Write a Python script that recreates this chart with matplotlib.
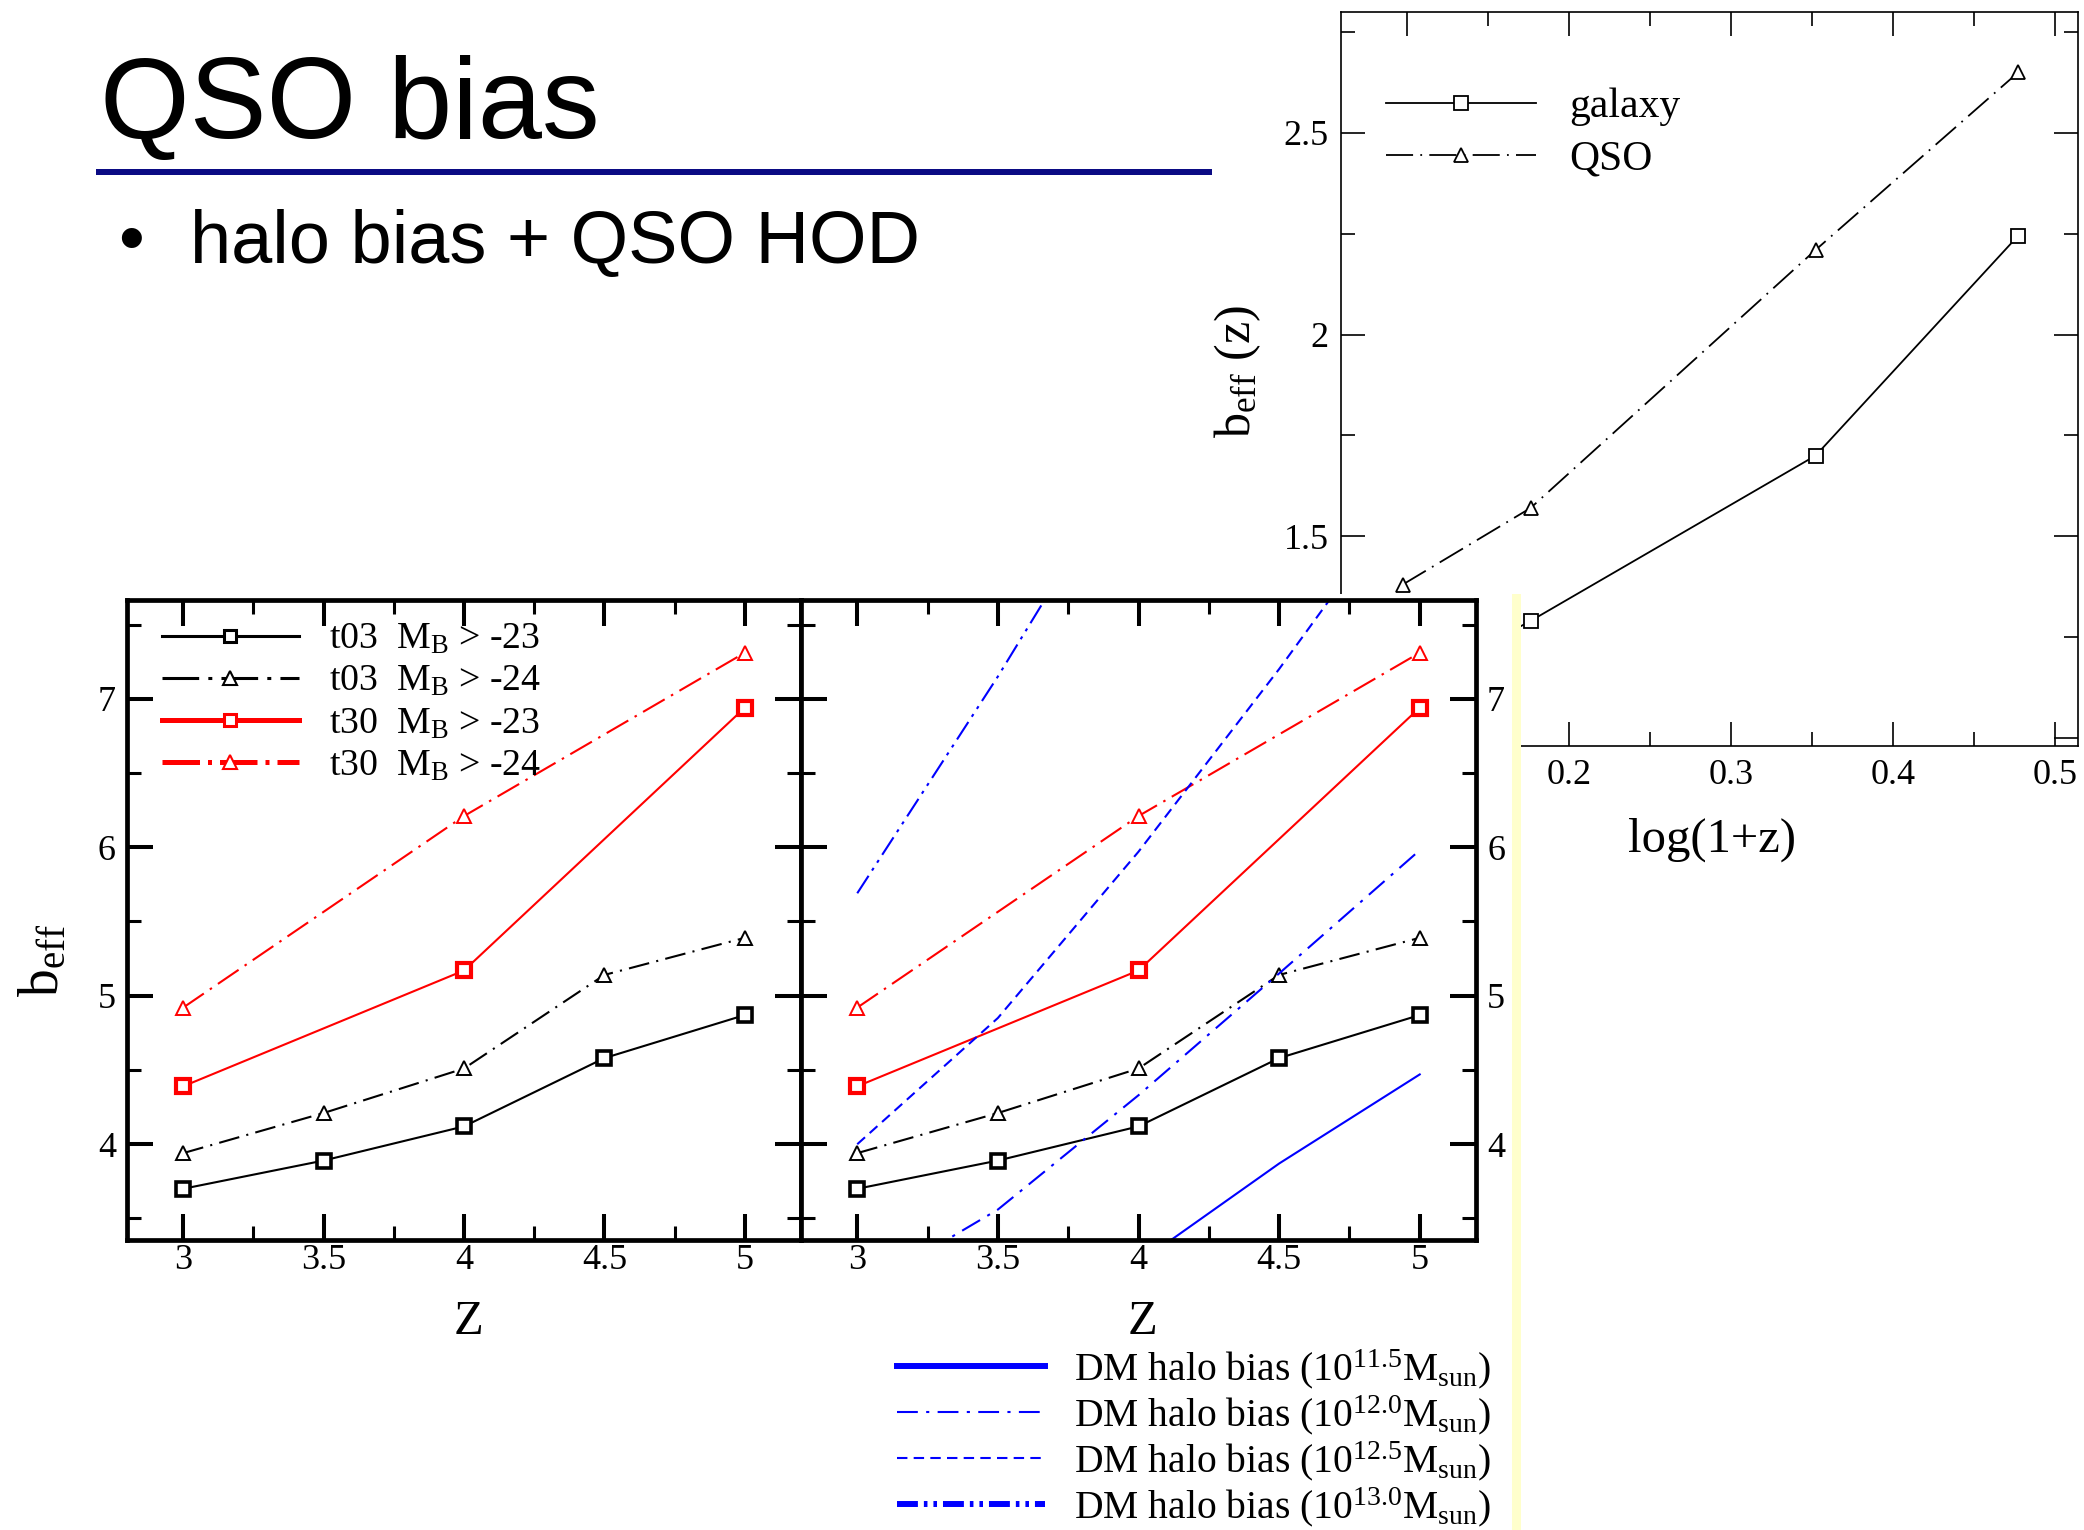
import matplotlib.pyplot as plt
from matplotlib.lines import Line2D
from matplotlib.patches import Rectangle
from matplotlib.ticker import MultipleLocator, FormatStrFormatter

plt.rcParams['font.family'] = ['Liberation Serif', 'DejaVu Serif']
plt.rcParams['mathtext.fontset'] = 'custom'
plt.rcParams['mathtext.rm'] = 'Liberation Serif'
plt.rcParams['mathtext.it'] = 'Liberation Serif:italic'

# b_eff(z) against log(1+z): galaxies and QSOs
logz_gal = [0.097, 0.176, 0.352, 0.477]
b_gal = [1.12, 1.29, 1.70, 2.245]
logz_qso = [0.097, 0.176, 0.352, 0.477]
b_qso = [1.38, 1.57, 2.21, 2.65]

# QSO effective bias against redshift (lifetime t03/t30, magnitude cut)
z_t03 = [3.0, 3.5, 4.0, 4.5, 5.0]
b_t03_23 = [3.70, 3.89, 4.12, 4.58, 4.87]
b_t03_24 = [3.94, 4.21, 4.51, 5.14, 5.39]
z_t30 = [3.0, 4.0, 5.0]
b_t30_23 = [4.39, 5.17, 6.94]
b_t30_24 = [4.92, 6.21, 7.31]

# dark matter halo bias for four halo masses
z_halo = [3.0, 3.5, 4.0, 4.5, 5.0]
b_halo_115 = [2.20, 2.65, 3.20, 3.87, 4.47]
b_halo_120 = [3.00, 3.56, 4.33, 5.15, 5.98]
b_halo_125 = [4.00, 4.85, 5.97, 7.20, 8.50]
b_halo_130 = [5.69, 7.15, 8.70, 10.3, 12.0]

qso_labels = [r't03  $\mathrm{M_B}$ > -23', r't03  $\mathrm{M_B}$ > -24',
              r't30  $\mathrm{M_B}$ > -23', r't30  $\mathrm{M_B}$ > -24']
halo_labels = [r'DM halo bias (10$^{\mathrm{11.5}}$M$_{\mathrm{sun}}$)',
               r'DM halo bias (10$^{\mathrm{12.0}}$M$_{\mathrm{sun}}$)',
               r'DM halo bias (10$^{\mathrm{12.5}}$M$_{\mathrm{sun}}$)',
               r'DM halo bias (10$^{\mathrm{13.0}}$M$_{\mathrm{sun}}$)']

W, H = 2084, 1530
fig = plt.figure(figsize=(W / 100, H / 100), dpi=100)


def box(x0, y0, x1, y1):
    # pixel box (top-left origin) -> figure fraction rect
    return [x0 / W, 1 - y1 / H, (x1 - x0) / W, (y1 - y0) / H]


# slide heading
fig.text(100 / W, 1 - 138 / H, 'QSO bias', fontsize=83, family='Liberation Sans',
         va='baseline')
fig.add_artist(Rectangle((96 / W, 1 - 175 / H), 1116 / W, 6 / H, transform=fig.transFigure,
                         facecolor='#0b0b84', edgecolor='none'))
fig.text(118 / W, 1 - 263 / H, '\u2022', fontsize=53, family='Liberation Sans', va='baseline')
fig.text(190 / W, 1 - 263 / H, 'halo bias + QSO HOD', fontsize=53.3,
         family='Liberation Sans', va='baseline')

# ---- galaxy / QSO panel (top right) ----
dashdot = (0, (15, 4, 1, 4))
ax_q = fig.add_axes(box(1341, 12, 2078, 746))
ax_q.plot(logz_gal, b_gal, color='k', lw=1.3, marker='s', ms=10, mfc='white', mew=1.3,
          label='galaxy')
ax_q.plot(logz_qso, b_qso, color='k', lw=1.3, ls=dashdot, marker='^', ms=10,
          mfc='white', mew=1.3, label='QSO')
ax_q.set_xlim(0.059, 0.514)
ax_q.set_ylim(0.98, 2.8)
ax_q.xaxis.set_major_locator(MultipleLocator(0.1))
ax_q.xaxis.set_minor_locator(MultipleLocator(0.05))
ax_q.yaxis.set_major_locator(MultipleLocator(0.5))
ax_q.yaxis.set_minor_locator(MultipleLocator(0.25))
ax_q.xaxis.set_major_formatter(FormatStrFormatter('%g'))
ax_q.yaxis.set_major_formatter(FormatStrFormatter('%g'))
ax_q.tick_params(which='both', direction='in', top=True, right=True, width=1.2,
                 labelsize=26, pad=9)
ax_q.tick_params(which='major', length=17)
ax_q.tick_params(which='minor', length=10)
for s in ax_q.spines.values():
    s.set_linewidth(1.2)
ax_q.set_xlabel('log(1+z)', fontsize=35)
ax_q.xaxis.set_label_coords(0.504, -0.098)
ax_q.set_ylabel(r'b$_{\mathrm{eff}}$ (z)', fontsize=36)
ax_q.yaxis.set_label_coords(-0.106, 0.51)
ax_q.legend(loc='upper left', bbox_to_anchor=(0.061, 0.897), frameon=False, fontsize=30,
            handlelength=3.6, handletextpad=0.8, borderpad=0, borderaxespad=0,
            labelspacing=0.33)

# white backdrop of the lower figure, with its pale edge strip
fig.add_artist(Rectangle((0, 0), 1512 / W, 1 - 594 / H, transform=fig.transFigure,
                         facecolor='white', edgecolor='none', zorder=0.5))
fig.add_artist(Rectangle((1512 / W, 0), 9 / W, 1 - 594 / H, transform=fig.transFigure,
                         facecolor='#ffffcc', edgecolor='none', zorder=0.5))

# ---- b_eff vs Z panels (bottom) ----
ax_l = fig.add_axes(box(127, 600, 801, 1240))
ax_r = fig.add_axes(box(801, 600, 1476, 1240))
red = '#ff0000'
blue = '#0000ff'
dd_k = (0, (10, 3.5, 1, 3.5))

for ax in (ax_l, ax_r):
    ax.set_zorder(1)
    ax.plot(z_t03, b_t03_23, color='k', lw=1.5, marker='s', ms=9.5, mfc='white', mew=2.6)
    ax.plot(z_t03, b_t03_24, color='k', lw=1.5, ls=dd_k, marker='^', ms=10, mfc='white',
            mew=1.4)
    ax.plot(z_t30, b_t30_23, color=red, lw=1.5, marker='s', ms=9.5, mfc='white', mew=3.0)
    ax.plot(z_t30, b_t30_24, color=red, lw=1.5, ls=(0, (12, 3.5, 1.2, 3.5)), marker='^',
            ms=10, mfc='white', mew=1.4)
    ax.set_xlim(2.8, 5.2)
    ax.set_ylim(3.355, 7.665)
    ax.xaxis.set_major_locator(MultipleLocator(0.5))
    ax.xaxis.set_minor_locator(MultipleLocator(0.25))
    ax.yaxis.set_major_locator(MultipleLocator(1))
    ax.yaxis.set_minor_locator(MultipleLocator(0.5))
    ax.xaxis.set_major_formatter(FormatStrFormatter('%g'))
    ax.tick_params(which='both', direction='in', top=True, right=True, labelsize=26)
    ax.tick_params(which='major', length=19, width=2.9)
    ax.tick_params(which='minor', length=10, width=2.2)
    ax.tick_params(axis='x', pad=3)
    ax.tick_params(axis='y', pad=8)
    for s in ax.spines.values():
        s.set_linewidth(3.4)
    ax.set_xlabel('Z', fontsize=35)
    ax.xaxis.set_label_coords(0.506, -0.094)

ax_r.plot(z_halo, b_halo_115, color=blue, lw=1.5)
ax_r.plot(z_halo, b_halo_120, color=blue, lw=1.5, ls=(0, (10, 4, 1.5, 4)))
ax_r.plot(z_halo, b_halo_125, color=blue, lw=1.5, ls=(0, (5, 3)))
ax_r.plot(z_halo, b_halo_130, color=blue, lw=1.5, ls=(0, (10, 3, 1.5, 3, 1.5, 3)))
ax_r.tick_params(labelleft=False, labelright=True)

ax_l.set_ylabel(r'b$_{\mathrm{eff}}$', fontsize=40)
ax_l.yaxis.set_label_coords(-0.085, 0.437)

qso_handles = [
    Line2D([], [], color='k', lw=2.2, marker='s', ms=9, mfc='white', mew=2.2),
    Line2D([], [], color='k', lw=2.2, ls=(0, (12, 3, 1.3, 3)), marker='^', ms=10,
           mfc='white', mew=1.5),
    Line2D([], [], color=red, lw=3.6, marker='s', ms=9, mfc='white', mew=2.2),
    Line2D([], [], color=red, lw=3.6, ls=(0, (7.5, 1.6, 0.8, 1.6)), marker='^', ms=10,
           mfc='white', mew=1.5),
]
ax_l.legend(qso_handles, qso_labels, loc='upper left', bbox_to_anchor=(0.052, 0.965),
            frameon=False, fontsize=27.3, handlelength=3.6, handletextpad=0.8,
            borderpad=0, borderaxespad=0, labelspacing=0.2)

halo_handles = [
    Line2D([], [], color=blue, lw=4.3),
    Line2D([], [], color=blue, lw=1.5, ls=(0, (10, 4, 1.5, 4))),
    Line2D([], [], color=blue, lw=1.5, ls=(0, (5, 3))),
    Line2D([], [], color=blue, lw=4.3, ls=(0, (3.5, 1, 0.6, 1, 0.6, 1))),
]
fig.legend(halo_handles, halo_labels, loc='upper left',
           bbox_to_anchor=(897 / W, 1 - 1347 / H), frameon=False, fontsize=28.5,
           handlelength=3.74, handletextpad=0.73, borderpad=0, borderaxespad=0,
           labelspacing=0.06)

fig.savefig('out.png', dpi=100)
